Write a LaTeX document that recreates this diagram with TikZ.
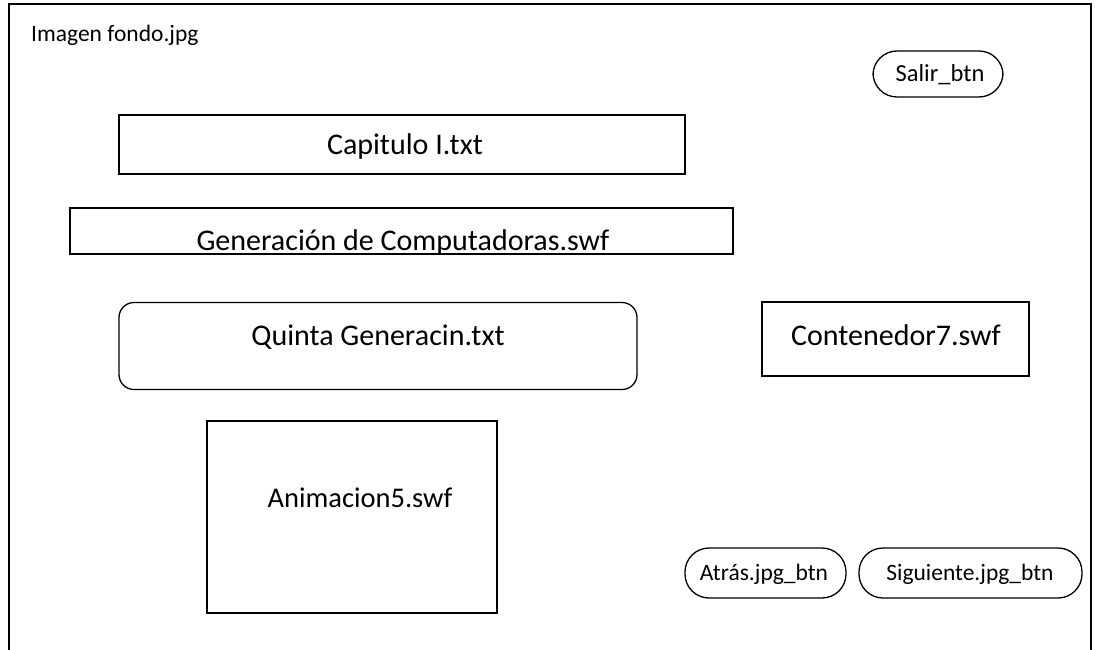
\documentclass[tikz,border=0pt]{standalone}
\usepackage{fontspec}
\setmainfont{Carlito}
\usetikzlibrary{positioning}
\tikzset{
  lbl/.style={inner sep=0pt, anchor=base, font=\fontsize{30}{34}\selectfont},
  lblsmall/.style={inner sep=0pt, anchor=base, font=\fontsize{23.5}{27}\selectfont},
  panel/.style={draw, line width=1.3pt, inner sep=0pt},
  pill/.style={panel, rounded corners=24pt},
}
\begin{document}
\begin{tikzpicture}[x=1pt,y=-1pt]
		\useasboundingbox (0,0) rectangle (1095,650);
		% marco de la pantalla
		\draw [line width=1.3pt] (9,650) -- (9,4) -- (1091,4) -- (1091,650);
		\node [lblsmall, anchor=base west] (fondo) at (31,42) {Imagen fondo.jpg};
		% cajas
		\node [pill, minimum width=130pt, minimum height=46pt] (salir) at (938,74) {};
		\node [panel, minimum width=566pt, minimum height=59pt] (capitulo) at (402,144.5) {};
		\node [panel, minimum width=663pt, minimum height=46pt] (generacion) at (401.5,231) {};
		\node [panel, rounded corners=15pt, minimum width=518pt, minimum height=87pt] (quinta) at (378,346) {};
		\node [panel, minimum width=267pt, minimum height=74pt] (contenedor) at (895.5,339) {};
		\node [panel, minimum width=290pt, minimum height=192pt] (animacion) at (352,517) {};
		\node [pill, minimum width=161pt, minimum height=50pt] (atras) at (765.5,573) {};
		\node [pill, minimum width=223pt, minimum height=50pt] (siguiente) at (970.5,573) {};
		% textos
		\node [lblsmall, font=\fontsize{24.5}{28}\selectfont] (salirtxt) at (940,82) {Salir\_btn};
		\node [lbl] (capitulotxt) at (405,155) {Capitulo I.txt};
		\begin{scope}
			\clip (generacion.south west) rectangle (generacion.north east);
			\node [lbl] (generaciontxt) at (403,250.5) {Generación de Computadoras.swf};
		\end{scope}
		\node [lbl] (quintatxt) at (378,345) {Quinta Generacin.txt};
		\node [lbl] (contenedortxt) at (896,345) {Contenedor7.swf};
		\node [lbl, font=\fontsize{28.5}{32}\selectfont] (animaciontxt) at (360,507) {Animacion5.swf};
		\node [lblsmall] (atrastxt) at (764,580) {Atrás.jpg\_btn};
		\node [lblsmall] (siguientetxt) at (970,580) {Siguiente.jpg\_btn};
	\end{tikzpicture}
\end{document}
